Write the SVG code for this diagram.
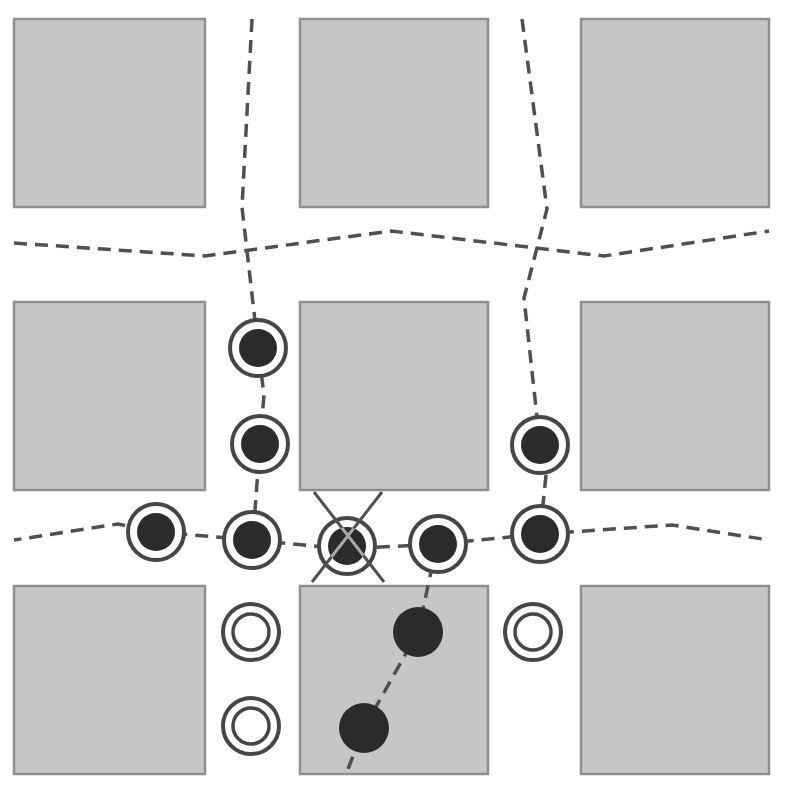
<svg xmlns="http://www.w3.org/2000/svg" width="788" height="792" viewBox="0 0 788 792">
<style>
.b{fill:#c5c6c8;stroke:#8e8f91;stroke-width:2.5}
.d{fill:none;stroke:#505050;stroke-width:3.5;stroke-dasharray:13 8}
.o{fill:#fff;stroke:#464646;stroke-width:4}
.i{fill:#2b2b2b}
.r{fill:#fff;stroke:#464646;stroke-width:3.5}
.x{fill:none;stroke:#505050;stroke-width:3}
.y{fill:none;stroke:#a8a8a8;stroke-width:3}
</style>
<defs><clipPath id="c"><circle cx="347" cy="546" r="19"/></clipPath></defs>
<rect width="788" height="792" fill="#fff"/>
<g id="blocks">
<rect class="b" x="14" y="19" width="191" height="188"/>
<rect class="b" x="300" y="19" width="188" height="188"/>
<rect class="b" x="581" y="19" width="188" height="188"/>
<rect class="b" x="14" y="302" width="191" height="188"/>
<rect class="b" x="300" y="302" width="188" height="188"/>
<rect class="b" x="581" y="302" width="188" height="188"/>
<rect class="b" x="14" y="586" width="191" height="188"/>
<rect class="b" x="300" y="586" width="188" height="188"/>
<rect class="b" x="581" y="586" width="188" height="188"/>
</g>
<g id="connectors">
<path class="d" d="M252 19L242 207L258 347L264 395L260 443L255 510L252 540L156 532L118 524L14 540"/>
<path class="d" d="M14 243L205 256L391 231L604 256L769 231"/>
<path class="d" d="M522 19L547 209L524 298L540 445L546 475L540 534L437 544L346 549L252 540"/>
<path class="d" d="M540 534L672 525L769 540"/>
<path class="d" d="M437 544L418 632L364 728L346 774"/>
</g>
<g id="n1"><circle class="o" cx="258" cy="348" r="28"/><circle class="i" cx="258" cy="348" r="19"/></g>
<g id="n2"><circle class="o" cx="260" cy="444" r="28"/><circle class="i" cx="260" cy="444" r="19"/></g>
<g id="n3"><circle class="o" cx="540" cy="445" r="28"/><circle class="i" cx="540" cy="445" r="19"/></g>
<g id="n4"><circle class="o" cx="156" cy="532" r="28"/><circle class="i" cx="156" cy="532" r="19"/></g>
<g id="n5"><circle class="o" cx="252" cy="540" r="28"/><circle class="i" cx="252" cy="540" r="19"/></g>
<g id="n6"><circle class="o" cx="347" cy="546" r="28"/><circle class="i" cx="347" cy="546" r="19"/>
<path class="x" d="M314 492L384 582M382 492L312 582"/>
<path class="y" d="M314 492L384 582M382 492L312 582" clip-path="url(#c)"/></g>
<g id="n7"><circle class="o" cx="438" cy="544" r="28"/><circle class="i" cx="438" cy="544" r="19"/></g>
<g id="n8"><circle class="o" cx="540" cy="534" r="28"/><circle class="i" cx="540" cy="534" r="19"/></g>
<g id="n9"><circle class="o" cx="251" cy="632" r="28"/><circle class="r" cx="251" cy="632" r="18"/></g>
<g id="n10"><circle class="o" cx="533" cy="632" r="28"/><circle class="r" cx="533" cy="632" r="18"/></g>
<g id="n11"><circle class="o" cx="251" cy="726" r="28"/><circle class="r" cx="251" cy="726" r="18"/></g>
<g id="n12"><circle class="i" cx="418" cy="632" r="25"/></g>
<g id="n13"><circle class="i" cx="364" cy="728" r="25"/></g>
</svg>
